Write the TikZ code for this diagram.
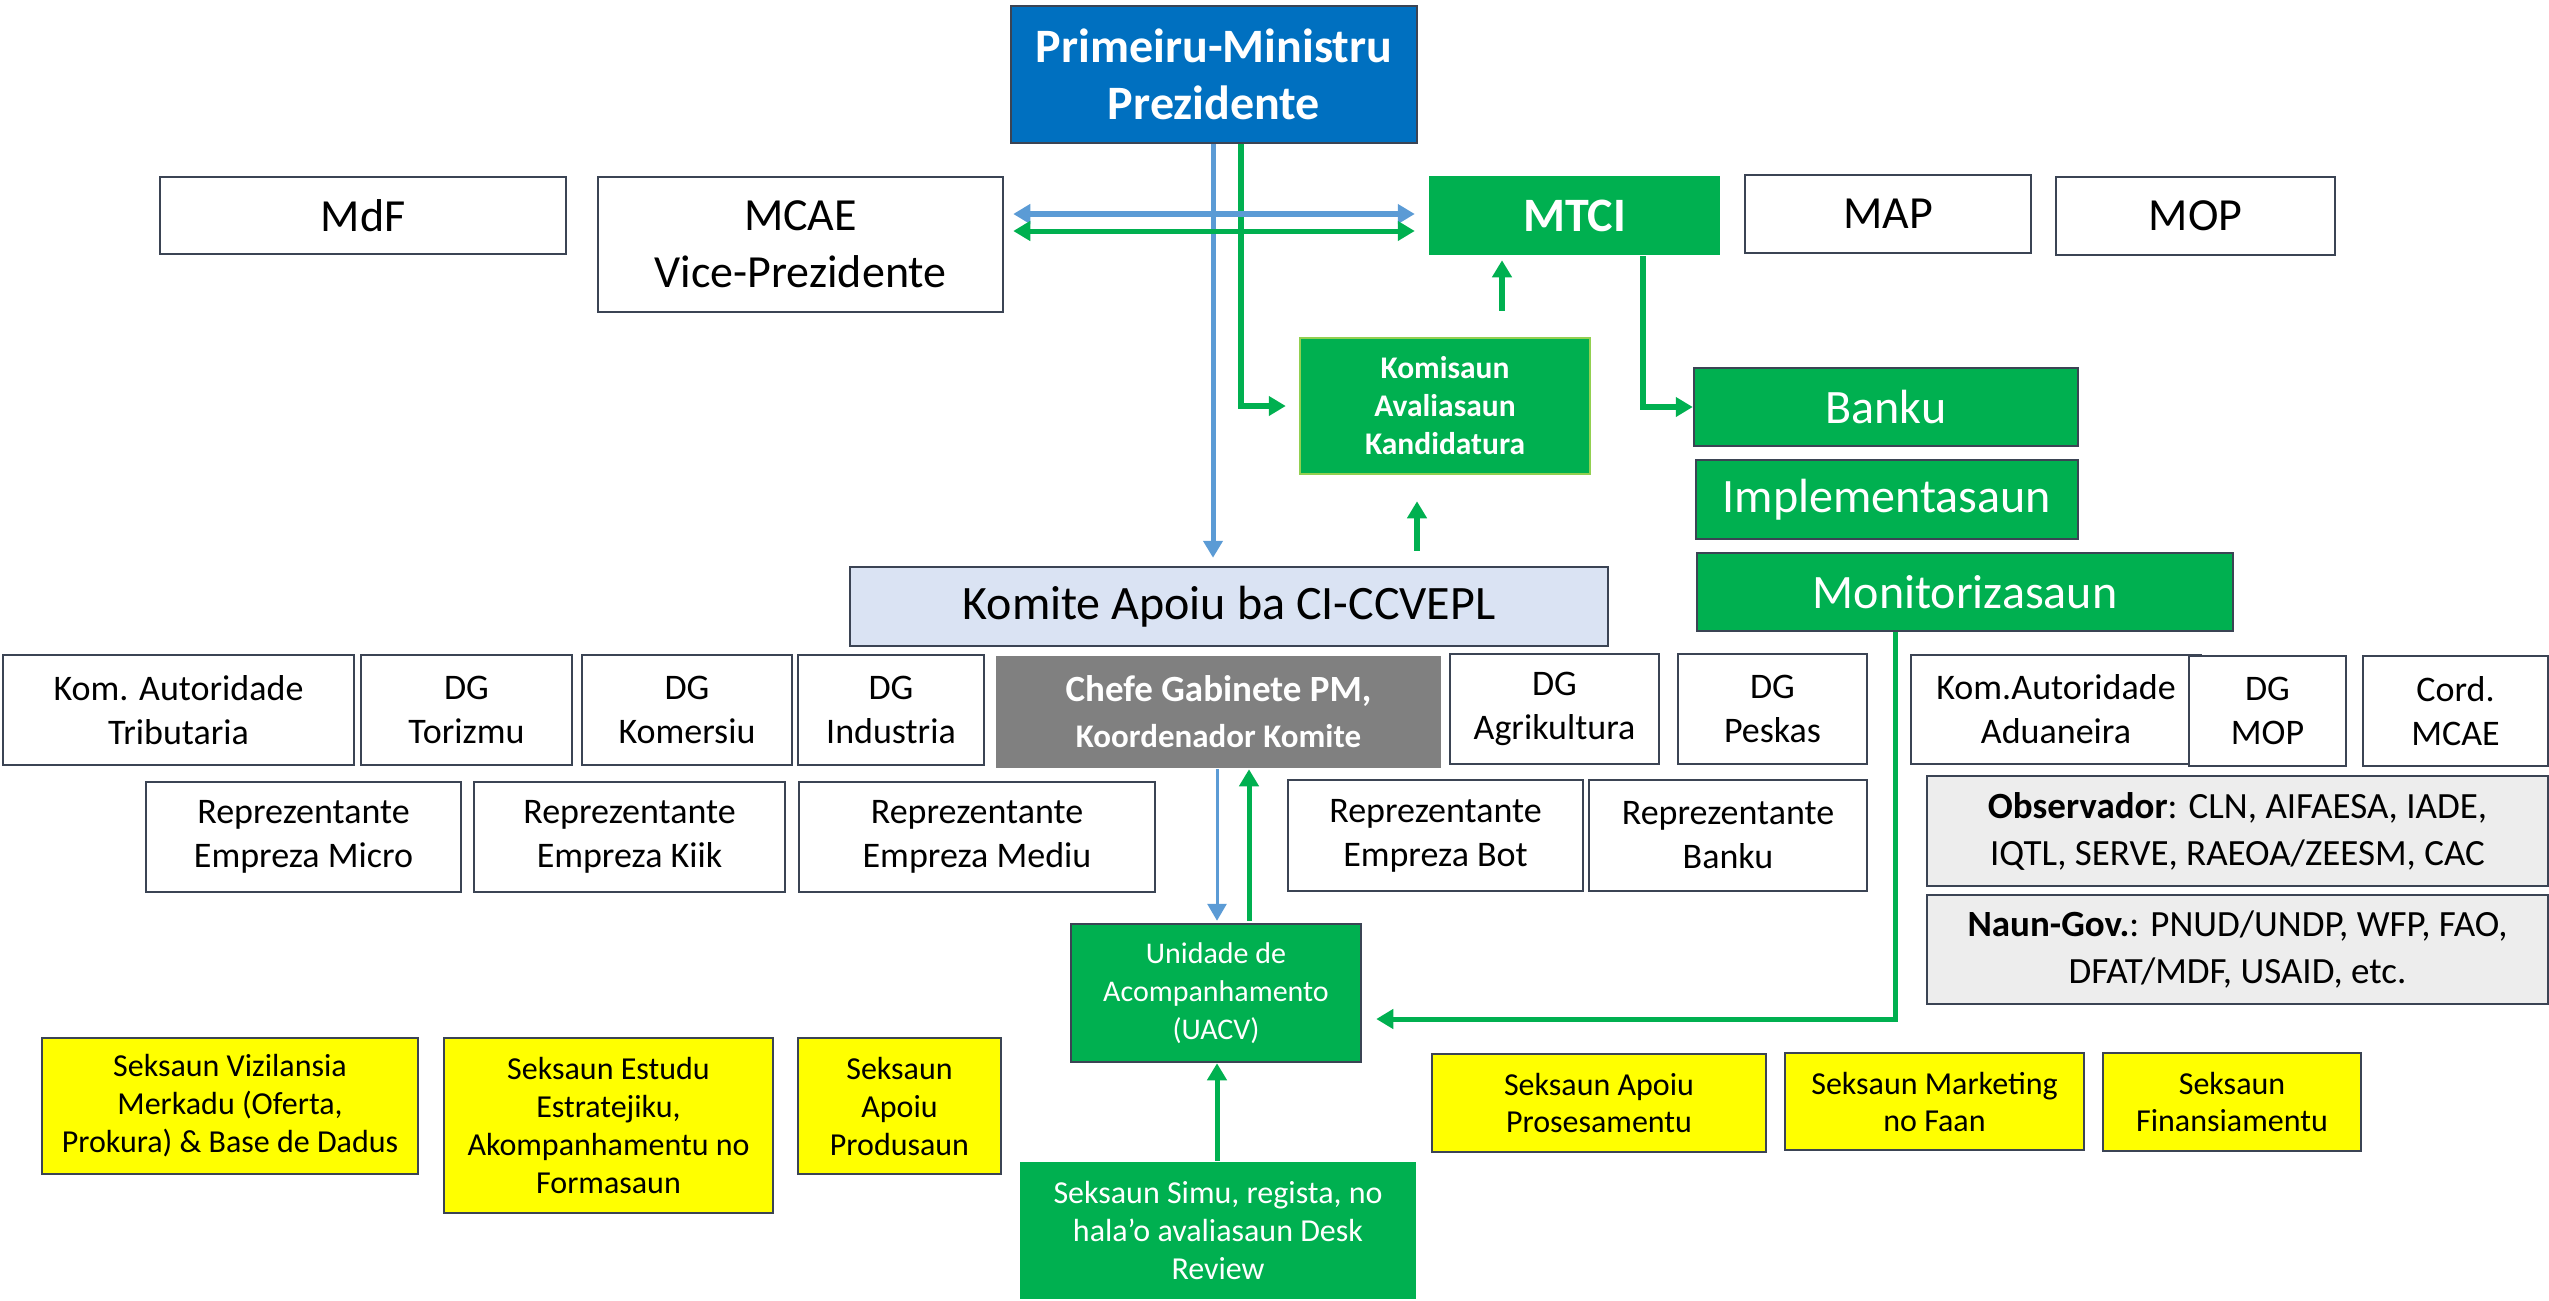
\documentclass[tikz,border=0pt]{standalone}
\usepackage{fontspec}
\setmainfont{Carlito}
\usetikzlibrary{arrows.meta}
\definecolor{bord}{RGB}{59,68,84}
\definecolor{gr}{RGB}{0,176,80}
\definecolor{pmblue}{RGB}{0,112,192}
\definecolor{bl}{RGB}{91,155,213}
\definecolor{komite}{RGB}{218,227,243}
\definecolor{chefe}{RGB}{128,128,128}
\definecolor{obs}{RGB}{237,237,237}
\definecolor{lgreen}{RGB}{146,208,80}
\definecolor{yel}{RGB}{255,255,0}
\newcommand\bx[7]{\node[#1, minimum width={(#5)-(#3)}, minimum height={(#6)-(#4)}] (#2) at ({((#3)+(#5))/2},{((#4)+(#6))/2}) {#7};}
\tikzset{
  box/.style={draw=bord, line width=2.5pt, fill=white, inner sep=0pt, align=center, font=\fontsize{36}{44}\selectfont},
  bigbox/.style={box, font=\fontsize{46}{57}\selectfont},
  gbox/.style={box, fill=gr, text=white, font=\fontsize{48}{57}\selectfont},
  ybox/.style={box, fill=yel, font=\fontsize{32}{38}\selectfont},
  ybox2/.style={box, fill=yel, font=\fontsize{32}{37}\selectfont},
  obox/.style={box, fill=obs, font=\fontsize{37}{47}\selectfont},
  gline/.style={draw=gr, line width=6pt},
  bline/.style={draw=bl, line width=5pt},
  tip/.style={-{Triangle[length=17pt,width=19pt]}},
  dtip/.style={{Triangle[length=17pt,width=19pt]}-{Triangle[length=17pt,width=19pt]}},
}
\begin{document}
\begin{tikzpicture}[x=1pt,y=-1pt]
\useasboundingbox (0,0) rectangle (2549,1301);
% top
\bx{box, fill=pmblue, text=white, font=\bfseries\fontsize{48}{57}\selectfont}{PM}{1011}{6}{1417}{143}{Primeiru-Ministru\\Prezidente}
\bx{bigbox}{MdF}{160}{177}{566}{254}{MdF}
\bx{bigbox}{MCAE}{598}{177}{1003}{312}{MCAE\\Vice-Prezidente}
\bx{box, draw=none, fill=gr, text=white, font=\bfseries\fontsize{48}{57}\selectfont}{MTCI}{1429}{176}{1720}{255}{MTCI}
\bx{bigbox}{MAP}{1745}{175}{2031}{253}{MAP}
\bx{bigbox}{MOP}{2056}{177}{2335}{255}{MOP}
\bx{box, draw=lgreen, fill=gr, text=white, font=\bfseries\fontsize{31.5}{38}\selectfont}{Komisaun}{1300}{338}{1590}{474}{Komisaun\\Avaliasaun\\Kandidatura}
\bx{gbox}{Banku}{1694}{368}{2078}{446}{Banku}
\bx{gbox}{Impl}{1696}{460}{2078}{539}{Implementasaun}
\bx{gbox}{Monit}{1697}{553}{2233}{631}{Monitorizasaun}
\bx{box, fill=komite, font=\fontsize{48}{57}\selectfont}{Komite}{850}{567}{1608}{646}{Komite Apoiu ba CI-CCVEPL}
% row 1
\bx{box}{Trib}{3}{655}{354}{765}{Kom. Autoridade\\Tributaria}
\bx{box}{Tor}{361}{655}{572}{765}{DG\\Torizmu}
\bx{box}{Kom}{582}{655}{792}{765}{DG\\Komersiu}
\bx{box}{Ind}{798}{655}{984}{765}{DG\\Industria}
\bx{box, draw=none, fill=chefe, text=white, font=\bfseries\fontsize{37}{46}\selectfont}{Chefe}{996}{656}{1441}{768}{Chefe Gabinete PM,\\{\fontsize{33}{46}\selectfont Koordenador Komite}}
\bx{box}{Agri}{1450}{654}{1659}{764}{DG\\Agrikultura}
\bx{box}{Pesk}{1678}{654}{1867}{764}{DG\\Peskas}
\bx{box}{Adua}{1911}{655}{2201}{764}{Kom.Autoridade\\Aduaneira}
\bx{box}{DGMOP}{2189}{656}{2346}{766}{DG\\MOP}
\bx{box}{Cord}{2363}{656}{2548}{766}{Cord.\\MCAE}
% row 2
\bx{box}{Micro}{146}{782}{461}{892}{Reprezentante\\Empreza Micro}
\bx{box}{Kiik}{474}{782}{785}{892}{Reprezentante\\Empreza Kiik}
\bx{box}{Mediu}{799}{782}{1155}{892}{Reprezentante\\Empreza Mediu}
\bx{box}{Bot}{1288}{780}{1583}{891}{Reprezentante\\Empreza Bot}
\bx{box}{RBanku}{1589}{780}{1867}{891}{Reprezentante\\Banku}
\bx{obox}{Obs}{1927}{776}{2548}{886}{\textbf{Observador}: CLN, AIFAESA, IADE,\\IQTL, SERVE, RAEOA/ZEESM, CAC}
\bx{obox}{Naun}{1927}{895}{2548}{1004}{\textbf{Naun-Gov.}: PNUD/UNDP, WFP, FAO,\\DFAT/MDF, USAID, etc.}
% lower
\bx{box, fill=gr, text=white, font=\fontsize{30}{38}\selectfont}{UACV}{1071}{924}{1361}{1062}{Unidade de\\Acompanhamento\\(UACV)}
\bx{ybox}{Viz}{42}{1038}{418}{1174}{Seksaun Vizilansia\\Merkadu (Oferta,\\Prokura) \& Base de Dadus}
\bx{ybox}{Est}{444}{1038}{773}{1213}{Seksaun Estudu\\Estratejiku,\\Akompanhamentu no\\Formasaun}
\bx{ybox}{Prod}{798}{1038}{1001}{1174}{Seksaun\\Apoiu\\Produsaun}
\bx{ybox2}{Pros}{1432}{1054}{1766}{1152}{Seksaun Apoiu\\Prosesamentu}
\bx{ybox2}{Mark}{1785}{1053}{2084}{1150}{Seksaun Marketing\\no Faan}
\bx{ybox2}{Fin}{2103}{1053}{2361}{1151}{Seksaun\\Finansiamentu}
\bx{box, draw=none, fill=gr, text=white, font=\fontsize{32}{38}\selectfont}{Simu}{1020}{1162}{1416}{1299}{Seksaun Simu, regista, no\\hala’o avaliasaun Desk\\Review}
% connector x positions
\coordinate (xb) at (1213,0);
\coordinate (xg) at (1241,0);
\coordinate (xk) at (1502,0);
\coordinate (xc) at (1417,0);
\coordinate (xm) at (1643,0);
\coordinate (xb2) at (1217,0);
\coordinate (xg2) at (1249,0);
\coordinate (xmon) at (1895,0);
\coordinate (ybl) at (0,214);
\coordinate (ygr) at (0,231);
\coordinate (ymon) at (0,1019);
% connectors
\draw[bline, tip, shorten >=8pt] (xb |- PM.south) -- (xb |- Komite.north);
\draw[gline, tip, shorten >=13pt] (xg |- PM.south) |- (Komisaun.west);
\draw[bline, line width=6pt, dtip, shorten <=9pt, shorten >=13pt] (MCAE.east |- ybl) -- (MTCI.west |- ybl);
\draw[gline, line width=5pt, dtip, shorten <=9pt, shorten >=13pt] (MCAE.east |- ygr) -- (MTCI.west |- ygr);
\draw[gline, tip, shorten <=26pt, shorten >=4pt] (xk |- Komisaun.north) -- (xk |- MTCI.south);
\draw[gline, tip, shorten <=15pt, shorten >=26pt] (xc |- Komite.north) -- (xc |- Komisaun.south);
\draw[gline, tip] (xm |- MTCI.south) |- (Banku.west);
\draw[bline, line width=3pt, tip, shorten >=2pt] (xb2 |- Chefe.south) -- (xb2 |- UACV.north);
\draw[gline, line width=5pt, tip, shorten <=2pt] (xg2 |- UACV.north) -- (xg2 |- Chefe.south);
\draw[gline, line width=5pt, tip, shorten >=14pt] (xmon |- Monit.south) -- (xmon |- ymon) -- (UACV.east |- ymon);
\draw[gline, line width=5pt, tip] (xb2 |- Simu.north) -- (xb2 |- UACV.south);
\end{tikzpicture}
\end{document}
